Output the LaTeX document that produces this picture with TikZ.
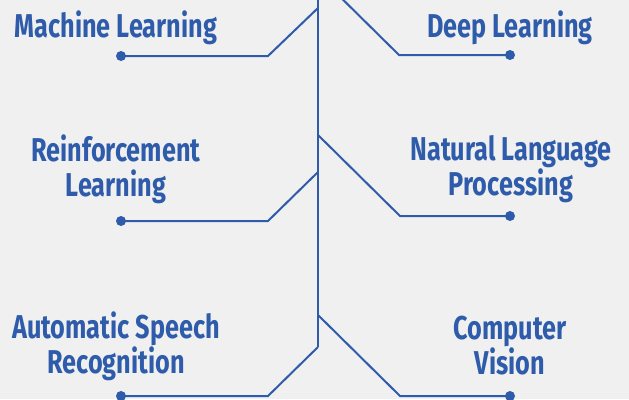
\documentclass[tikz,border=0pt]{standalone}
\usepackage{fontspec}
\setmainfont{Fira Sans}[FakeStretch=0.765]
\definecolor{bgc}{RGB}{240,240,240}
\definecolor{blu}{RGB}{46,92,170}
\begin{document}
\begin{tikzpicture}[x=1pt,y=-1pt,
  conn/.style={draw=blu,line width=2pt,line join=miter},
  dot/.style={circle,fill=blu,inner sep=0pt,minimum size=10pt},
  lbl/.style={text=blu,font=\fontsize{33}{35}\selectfont\bfseries,align=center,inner sep=0pt}]
\useasboundingbox (0,0) rectangle (629,399);
\fill[bgc] (0,0) rectangle (629,399);
\clip (0,0) rectangle (629,399);
% spine
\coordinate (top) at (318,-5);
\coordinate (bot) at (318,347);
\draw[conn] (top) -- (bot);
% Machine Learning
\coordinate (mlj) at (318,8);
\coordinate (mle) at (268,56);
\node[dot] (mld) at (121,56) {};
\draw[conn] (mlj) -- (mle) -- (mld.center);
\node[lbl] (mlt) at (116,28) {Machine Learning};
% Deep Learning
\coordinate (dlj) at (318,-25);
\coordinate (dle) at (399,55);
\node[dot] (dld) at (510,55) {};
\draw[conn] (dlj) -- (dle) -- (dld.center);
\node[lbl] (dlt) at (510,28) {Deep Learning};
% Reinforcement Learning
\coordinate (rlj) at (318,172);
\coordinate (rle) at (268,221);
\node[dot] (rld) at (121,221) {};
\draw[conn] (rlj) -- (rle) -- (rld.center);
\node[lbl] (rlt) at (116,169) {Reinforcement\\Learning};
% NLP
\coordinate (nlj) at (318,135);
\coordinate (nle) at (400,216);
\node[dot] (nld) at (510,216) {};
\draw[conn] (nlj) -- (nle) -- (nld.center);
\node[lbl] (nlt) at (511,169) {Natural Language\\Processing};
% ASR
\coordinate (asj) at (318,347);
\coordinate (ase) at (268,396);
\node[dot] (asd) at (121,396) {};
\draw[conn] (asj) -- (ase) -- (asd.center);
\node[lbl] (ast) at (116,346) {Automatic Speech\\Recognition};
% CV
\coordinate (cvj) at (318,315);
\coordinate (cve) at (400,396);
\node[dot] (cvd) at (510,396) {};
\draw[conn] (cvj) -- (cve) -- (cvd.center);
\node[lbl] (cvt) at (510,346) {Computer\\Vision};
\end{tikzpicture}
\end{document}
